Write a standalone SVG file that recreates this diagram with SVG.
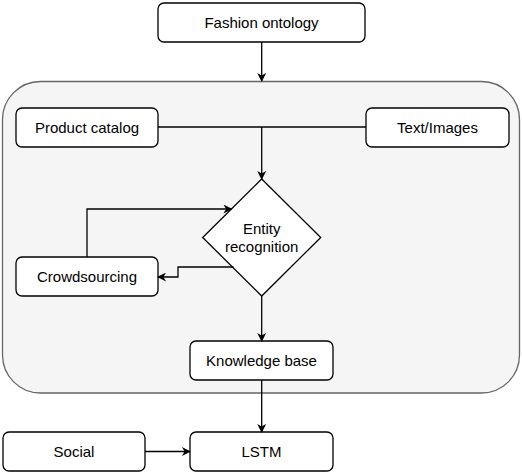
<svg xmlns="http://www.w3.org/2000/svg" width="522" height="472" viewBox="0 0 522 472">
<defs>
<marker id="arr" viewBox="0 0 10 10" refX="9" refY="5" markerWidth="10" markerHeight="9" markerUnits="userSpaceOnUse" orient="auto">
<path d="M0,0 L10,5 L0,10 L3,5 Z" fill="#000"/>
</marker>
<style>
.box{fill:#fff;stroke:#000;stroke-width:1.3}
.t{font-family:"Liberation Sans",Arial,sans-serif;font-size:15px;fill:#000;text-anchor:middle}
.c{fill:none;stroke:#000;stroke-width:1.3}
</style>
</defs>
<rect width="522" height="472" fill="#fff"/>
<g id="container"><rect x="2.5" y="81.5" width="517" height="311.5" rx="38" ry="38" fill="#f5f5f5" stroke="#666" stroke-width="1.3"/></g>
<g id="fashion-ontology"><rect class="box" x="158" y="3" width="207" height="39" rx="6"/><text class="t" x="261.5" y="27.5">Fashion ontology</text></g>
<g id="product-catalog"><rect class="box" x="16" y="108" width="142" height="39" rx="6"/><text class="t" x="87" y="132.5">Product catalog</text></g>
<g id="text-images"><rect class="box" x="366" y="108" width="143" height="39" rx="6"/><text class="t" x="437.5" y="132.5">Text/Images</text></g>
<g id="entity-recognition"><polygon class="box" points="261.7,179 320.7,237.5 261.7,296 202.7,237.5"/><text class="t" x="261.7" y="234">Entity</text><text class="t" x="261.7" y="252">recognition</text></g>
<g id="crowdsourcing"><rect class="box" x="16" y="257" width="142" height="39" rx="6"/><text class="t" x="87" y="281.5">Crowdsourcing</text></g>
<g id="knowledge-base"><rect class="box" x="190" y="341" width="143" height="39" rx="6"/><text class="t" x="261.5" y="365.5">Knowledge base</text></g>
<g id="social"><rect class="box" x="3" y="432" width="142" height="39" rx="6"/><text class="t" x="74" y="456.5">Social</text></g>
<g id="lstm"><rect class="box" x="190" y="432" width="143" height="39" rx="6"/><text class="t" x="261.5" y="456.5">LSTM</text></g>
<g id="connectors">
<path class="c" d="M261.7,42 V81" marker-end="url(#arr)"/>
<path class="c" d="M158,127 H366"/>
<path class="c" d="M261.7,127 V179" marker-end="url(#arr)"/>
<path class="c" d="M87,257 V209 H231.5" marker-end="url(#arr)"/>
<path class="c" d="M233.5,267 H178 V277 H158" marker-end="url(#arr)"/>
<path class="c" d="M261.7,296 V341" marker-end="url(#arr)"/>
<path class="c" d="M261.7,380 V432" marker-end="url(#arr)"/>
<path class="c" d="M145,451.5 H190" marker-end="url(#arr)"/>
</g>
</svg>
